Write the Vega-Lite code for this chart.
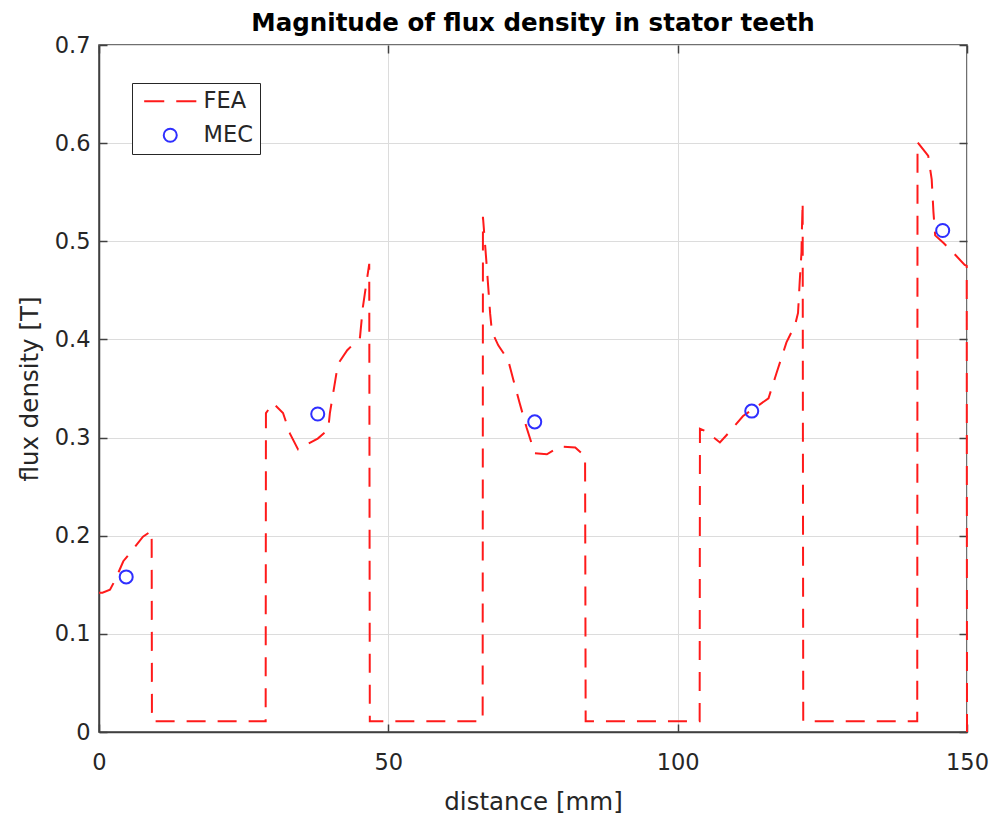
{
  "$schema": "https://vega.github.io/schema/vega-lite/v6.json",
  "width": 868,
  "height": 687,
  "autosize": {"type": "none"},
  "padding": {"left": 99, "top": 45, "right": 27, "bottom": 89},
  "background": "white",
  "title": {"text": "Magnitude of flux density in stator teeth", "font": "DejaVu Sans", "fontSize": 24.5, "fontWeight": "bold", "color": "#000000", "anchor": "middle", "frame": "group", "offset": -21.5, "baseline": "alphabetic"},
  "config": {"view": {"stroke": "#404040", "strokeWidth": 1.5}, "font": "DejaVu Sans"},
  "datasets": {
    "fea": [
      {"series": "FEA", "distance": 0, "flux": 0.142},
      {"series": "FEA", "distance": 0.6, "flux": 0.142},
      {"series": "FEA", "distance": 1.9, "flux": 0.145},
      {"series": "FEA", "distance": 2.8, "flux": 0.155},
      {"series": "FEA", "distance": 4.2, "flux": 0.174},
      {"series": "FEA", "distance": 5.6, "flux": 0.184},
      {"series": "FEA", "distance": 7.6, "flux": 0.199},
      {"series": "FEA", "distance": 9.1, "flux": 0.205},
      {"series": "FEA", "distance": 9.15, "flux": 0.011},
      {"series": "FEA", "distance": 28.8, "flux": 0.011},
      {"series": "FEA", "distance": 28.85, "flux": 0.325},
      {"series": "FEA", "distance": 30.1, "flux": 0.335},
      {"series": "FEA", "distance": 31.8, "flux": 0.325},
      {"series": "FEA", "distance": 33.0, "flux": 0.304},
      {"series": "FEA", "distance": 34.4, "flux": 0.288},
      {"series": "FEA", "distance": 35.9, "flux": 0.293},
      {"series": "FEA", "distance": 37.8, "flux": 0.299},
      {"series": "FEA", "distance": 39.6, "flux": 0.308},
      {"series": "FEA", "distance": 39.9, "flux": 0.325},
      {"series": "FEA", "distance": 41.3, "flux": 0.375},
      {"series": "FEA", "distance": 42.9, "flux": 0.389},
      {"series": "FEA", "distance": 45.1, "flux": 0.402},
      {"series": "FEA", "distance": 45.6, "flux": 0.433},
      {"series": "FEA", "distance": 46.7, "flux": 0.477},
      {"series": "FEA", "distance": 46.8, "flux": 0.011},
      {"series": "FEA", "distance": 66.3, "flux": 0.011},
      {"series": "FEA", "distance": 66.35, "flux": 0.525},
      {"series": "FEA", "distance": 67.0, "flux": 0.475},
      {"series": "FEA", "distance": 67.6, "flux": 0.426},
      {"series": "FEA", "distance": 67.9, "flux": 0.408},
      {"series": "FEA", "distance": 69.0, "flux": 0.394},
      {"series": "FEA", "distance": 70.7, "flux": 0.379},
      {"series": "FEA", "distance": 71.6, "flux": 0.359},
      {"series": "FEA", "distance": 72.7, "flux": 0.335},
      {"series": "FEA", "distance": 73.9, "flux": 0.31},
      {"series": "FEA", "distance": 75.3, "flux": 0.284},
      {"series": "FEA", "distance": 77.4, "flux": 0.283},
      {"series": "FEA", "distance": 79.7, "flux": 0.291},
      {"series": "FEA", "distance": 82.3, "flux": 0.29},
      {"series": "FEA", "distance": 84.0, "flux": 0.281},
      {"series": "FEA", "distance": 84.1, "flux": 0.011},
      {"series": "FEA", "distance": 103.8, "flux": 0.011},
      {"series": "FEA", "distance": 103.85, "flux": 0.309},
      {"series": "FEA", "distance": 105.0, "flux": 0.306},
      {"series": "FEA", "distance": 107.3, "flux": 0.295},
      {"series": "FEA", "distance": 109.0, "flux": 0.306},
      {"series": "FEA", "distance": 111.3, "flux": 0.322},
      {"series": "FEA", "distance": 112.8, "flux": 0.328},
      {"series": "FEA", "distance": 115.7, "flux": 0.34},
      {"series": "FEA", "distance": 117.1, "flux": 0.366},
      {"series": "FEA", "distance": 118.8, "flux": 0.397},
      {"series": "FEA", "distance": 120.3, "flux": 0.415},
      {"series": "FEA", "distance": 120.8, "flux": 0.427},
      {"series": "FEA", "distance": 121.1, "flux": 0.46},
      {"series": "FEA", "distance": 121.4, "flux": 0.489},
      {"series": "FEA", "distance": 121.45, "flux": 0.507},
      {"series": "FEA", "distance": 121.6, "flux": 0.54},
      {"series": "FEA", "distance": 121.7, "flux": 0.011},
      {"series": "FEA", "distance": 141.4, "flux": 0.011},
      {"series": "FEA", "distance": 141.45, "flux": 0.601},
      {"series": "FEA", "distance": 142.9, "flux": 0.59},
      {"series": "FEA", "distance": 143.3, "flux": 0.587},
      {"series": "FEA", "distance": 143.9, "flux": 0.563},
      {"series": "FEA", "distance": 144.2, "flux": 0.53},
      {"series": "FEA", "distance": 144.5, "flux": 0.506},
      {"series": "FEA", "distance": 146.0, "flux": 0.498},
      {"series": "FEA", "distance": 148.0, "flux": 0.486},
      {"series": "FEA", "distance": 149.6, "flux": 0.476},
      {"series": "FEA", "distance": 149.95, "flux": 0.475},
      {"series": "FEA", "distance": 150, "flux": 0.0}
    ],
    "mec": [
      {"series": "MEC", "distance": 4.7, "flux": 0.158},
      {"series": "MEC", "distance": 37.8, "flux": 0.324},
      {"series": "MEC", "distance": 75.3, "flux": 0.316},
      {"series": "MEC", "distance": 112.8, "flux": 0.327},
      {"series": "MEC", "distance": 145.8, "flux": 0.511}
    ]
  },
  "layer": [
    {
      "data": {"name": "fea"},
      "mark": {"type": "line", "color": "#ff1a1a", "strokeWidth": 2, "strokeDash": [19, 12], "clip": false},
      "encoding": {
        "x": {
          "field": "distance", "type": "quantitative",
          "scale": {"domain": [0, 150], "nice": false, "zero": false},
          "axis": {
            "orient": "bottom", "values": [0, 50, 100, 150], "format": "d",
            "title": "distance [mm]", "titleFont": "DejaVu Sans", "titleFontSize": 24.5, "titleFontWeight": "normal", "titleColor": "#262626",
            "titleBaseline": "alphabetic", "titleY": 77,
            "labelFont": "DejaVu Sans", "labelFontSize": 22.5, "labelColor": "#262626", "labelPadding": 27.5, "labelFlush": false, "labelOverlap": false,
            "tickSize": -8, "tickColor": "#404040", "tickWidth": 1.5,
            "domainColor": "#404040", "domainWidth": 1.5,
            "grid": true, "gridColor": "#dcdcdc", "gridWidth": 1
          }
        },
        "y": {
          "field": "flux", "type": "quantitative",
          "scale": {"domain": [0, 0.7], "nice": false},
          "axis": {
            "orient": "left", "values": [0, 0.1, 0.2, 0.3, 0.4, 0.5, 0.6, 0.7], "format": ".1~f",
            "title": "flux density [T]", "titleFont": "DejaVu Sans", "titleFontSize": 24.5, "titleFontWeight": "normal", "titleColor": "#262626",
            "titleAngle": -90, "titleBaseline": "alphabetic", "titleAlign": "center", "titleX": -62, "titleY": 343.5,
            "labelFont": "DejaVu Sans", "labelFontSize": 22.5, "labelColor": "#262626", "labelPadding": 17, "labelFlush": false, "labelOverlap": false,
            "tickSize": -8, "tickColor": "#404040", "tickWidth": 1.5,
            "domainColor": "#404040", "domainWidth": 1.5,
            "grid": true, "gridColor": "#dcdcdc", "gridWidth": 1
          }
        },
        "order": {"value": null}
      }
    },
    {
      "data": {"name": "mec"},
      "mark": {"type": "point", "filled": false, "size": 170, "strokeWidth": 2, "opacity": 1},
      "encoding": {
        "x": {
          "field": "distance", "type": "quantitative",
          "axis": {"orient": "top", "values": [0, 50, 100, 150], "labels": false, "title": null, "domain": false, "grid": false, "tickSize": -8, "tickColor": "#404040", "tickWidth": 1.5}
        },
        "y": {
          "field": "flux", "type": "quantitative",
          "axis": {"orient": "right", "values": [0, 0.1, 0.2, 0.3, 0.4, 0.5, 0.6, 0.7], "labels": false, "title": null, "domain": false, "grid": false, "tickSize": -8, "tickColor": "#404040", "tickWidth": 1.5}
        },
        "stroke": {
          "field": "series", "type": "nominal",
          "scale": {"domain": ["FEA", "MEC"], "range": ["#ff1a1a", "#2f2fff"]},
          "legend": {
            "title": null, "orient": "none", "legendX": 33, "legendY": 38, "direction": "vertical",
            "strokeColor": "#262626", "fillColor": "white", "padding": 7, "cornerRadius": 0,
            "symbolSize": 170, "symbolStrokeWidth": 2, "symbolOffset": 20, "labelOffset": 22,
            "labelFont": "DejaVu Sans", "labelFontSize": 22.5, "labelColor": "#262626", "rowPadding": 11
          }
        },
        "shape": {
          "field": "series", "type": "nominal",
          "scale": {"domain": ["FEA", "MEC"], "range": ["M-4,0H-0.92M0.92,0H4", "circle"]},
          "legend": {
            "title": null, "orient": "none", "legendX": 33, "legendY": 38, "direction": "vertical",
            "strokeColor": "#262626", "fillColor": "white", "padding": 7, "cornerRadius": 0,
            "symbolSize": 170, "symbolStrokeWidth": 2, "symbolOffset": 20, "labelOffset": 22,
            "labelFont": "DejaVu Sans", "labelFontSize": 22.5, "labelColor": "#262626", "rowPadding": 11
          }
        }
      }
    }
  ]
}
